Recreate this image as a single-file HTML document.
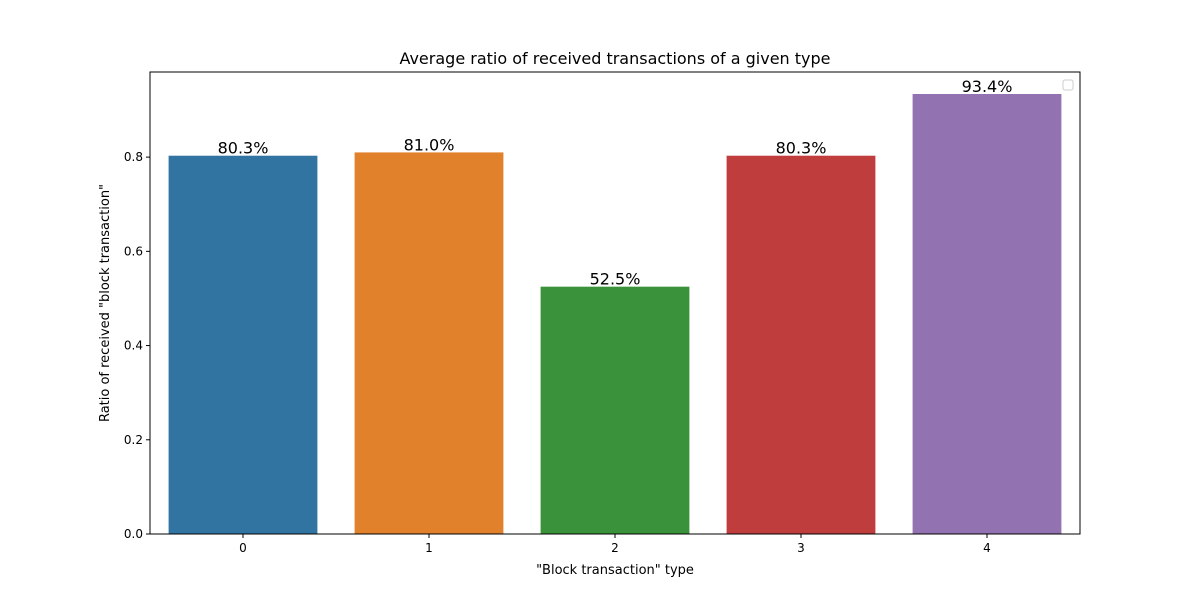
<!DOCTYPE html>
<html><head><meta charset="utf-8"><style>body{margin:0;background:#fff}svg{display:block;font-family:"DejaVu Sans","Liberation Sans",sans-serif}</style></head>
<body>
<svg id="chart" width="1200" height="600" viewBox="0 0 1200 600">
<rect width="1200" height="600" fill="#fff"/>
<text x="615" y="64" text-anchor="middle" font-size="16" fill="#000">Average ratio of received transactions of a given type</text>
<g id="bars"></g>
<g id="axes"></g>
<rect x="150" y="72" width="930" height="462" fill="none" stroke="#000" stroke-width="1"/>
<rect x="1063" y="80" width="10" height="10" rx="2" fill="#fff" stroke="#ccc"/>
<text x="615" y="574" text-anchor="middle" font-size="13">"Block transaction" type</text>
<text transform="translate(109,303) rotate(-90)" text-anchor="middle" font-size="13">Ratio of received "block transaction"</text>
</svg>
<script>
const categories = ["0","1","2","3","4"];
const values = [0.803, 0.810, 0.525, 0.803, 0.934];
const labels = ["80.3%","81.0%","52.5%","80.3%","93.4%"];
const yTicks = [0.0, 0.2, 0.4, 0.6, 0.8];
const colors = ["#3274a1","#e1812c","#3a923a","#c03d3e","#9372b2"];
const NS="http://www.w3.org/2000/svg";
const x0=150,x1=1080,y0=534,y1=72,ymax=0.9807;
const xs=i=>x0+(i+0.5)*(x1-x0)/categories.length;
const ys=v=>y0-v/ymax*(y0-y1);
const bw=0.8*(x1-x0)/categories.length;
const bars=document.getElementById('bars'),axes=document.getElementById('axes');
function mk(t,a,p){const e=document.createElementNS(NS,t);for(const k in a)e.setAttribute(k,a[k]);p.appendChild(e);return e;}
values.forEach((v,i)=>{
 const r=mk('rect',{x:xs(i)-bw/2,y:ys(v),width:bw,height:y0-ys(v),fill:colors[i]},bars);
 
 
 const t=mk('text',{x:xs(i),y:ys(v)-2,'text-anchor':'middle','font-size':16},bars);t.textContent=labels[i];
 
 
 const tk=mk('line',{x1:xs(i),x2:xs(i),y1:y0,y2:y0+4,stroke:'#000'},axes);
 
 
 const tl=mk('text',{x:xs(i),y:y0+18,'text-anchor':'middle','font-size':12},axes);tl.textContent=categories[i];
 
 
});
yTicks.forEach(v=>{
 const tk=mk('line',{x1:x0-4,x2:x0,y1:ys(v),y2:ys(v),stroke:'#000'},axes);
 
 
 const tl=mk('text',{x:x0-7,y:ys(v)+4,'text-anchor':'end','font-size':12},axes);tl.textContent=v.toFixed(1);
 
 
});
</script>
</body></html>
